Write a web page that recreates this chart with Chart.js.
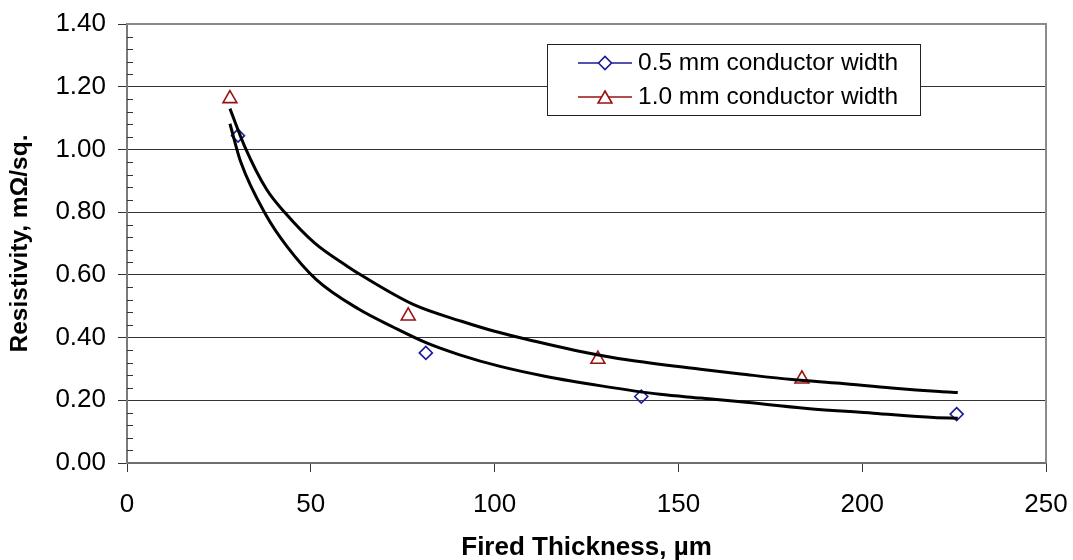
<!DOCTYPE html>
<html>
<head>
<meta charset="utf-8">
<script src="https://cdn.jsdelivr.net/npm/chart.js@4.4.1/dist/chart.umd.min.js"></script>
<style>
  html, body { margin: 0; padding: 0; background: #ffffff; }
  #wrap { width: 1073px; height: 560px; position: relative; }
</style>
</head>
<body>
<div id="wrap"><canvas id="c" width="1073" height="560"></canvas></div>
<script>
// ---- data ----
const seriesNames = ['0.5 mm conductor width', '1.0 mm conductor width'];
const thickness05 = [30.2, 81.3, 139.9, 225.7];
const resist05 = [1.044, 0.351, 0.212, 0.156];
const thickness10 = [28.0, 76.5, 128.1, 183.6];
const resist10 = [1.162, 0.469, 0.331, 0.268];
// trend curves as drawn in the reference
const trendX05 = [28, 31, 38, 43.5, 51.5, 63, 72.5, 81.5, 90.5, 101.5, 114, 129, 145, 156, 167, 185, 203, 219.5, 226];
const trendY05 = [1.082, 0.958, 0.787, 0.691, 0.585, 0.491, 0.433, 0.383, 0.345, 0.308, 0.276, 0.246, 0.219, 0.207, 0.195, 0.174, 0.159, 0.145, 0.143];
const trendX10 = [28, 32, 38, 43, 51, 60, 64, 78, 91, 100, 111, 122, 136, 156, 167, 181, 194, 208, 221, 226];
const trendY10 = [1.13, 1.01, 0.872, 0.798, 0.702, 0.627, 0.597, 0.505, 0.452, 0.42, 0.388, 0.359, 0.329, 0.299, 0.284, 0.266, 0.254, 0.239, 0.228, 0.225];
const xTitle = 'Fired Thickness, µm';
const yTitle = 'Resistivity, mΩ/sq.';
const xMin = 0, xMax = 250, xStep = 50;
const yMin = 0, yMax = 1.4, yStep = 0.2, yMinorStep = 0.04;

const toPts = (xs, ys) => xs.map((x, i) => ({ x: x, y: ys[i] }));
const FONT = "'Liberation Sans', Arial, sans-serif";

const minorTicks = {
  id: 'minorTicks',
  afterDatasetsDraw(chart) {
    const { ctx, chartArea } = chart;
    const y = chart.scales.y;
    ctx.save();
    ctx.strokeStyle = '#333';
    ctx.lineWidth = 1;
    const n = Math.round((yMax - yMin) / yMinorStep);
    for (let k = 1; k < n; k++) {
      if (k % 5 === 0) continue;
      const py = Math.round(y.getPixelForValue(yMin + k * yMinorStep)) + 0.5;
      ctx.beginPath();
      ctx.moveTo(chartArea.left, py);
      ctx.lineTo(chartArea.left + 6, py);
      ctx.stroke();
    }
    // top and right frame
    ctx.strokeStyle = '#8a8a8a';
    ctx.lineWidth = 2;
    ctx.beginPath();
    ctx.moveTo(chartArea.left, chartArea.top);
    ctx.lineTo(chartArea.right, chartArea.top);
    ctx.lineTo(chartArea.right, chartArea.bottom);
    ctx.stroke();
    ctx.restore();
  }
};

const boxLegend = {
  id: 'boxLegend',
  afterDraw(chart) {
    const { ctx } = chart;
    const bx = 547, by = 44, bw = 373, bh = 71;
    ctx.save();
    ctx.fillStyle = '#ffffff';
    ctx.fillRect(bx, by, bw, bh);
    ctx.strokeStyle = '#222';
    ctx.lineWidth = 1;
    ctx.strokeRect(bx + 0.5, by + 0.5, bw, bh);
    const rows = [63, 97];
    [0, 1].forEach((i) => {
      const ds = chart.data.datasets[i];
      const ry = rows[i];
      ctx.strokeStyle = ds.borderColor;
      ctx.lineWidth = 1.5;
      ctx.beginPath();
      ctx.moveTo(578, ry);
      ctx.lineTo(632, ry);
      ctx.stroke();
      ctx.fillStyle = '#ffffff';
      ctx.lineWidth = ds.borderWidth;
      Chart.helpers.drawPoint(ctx, {
        pointStyle: ds.pointStyle,
        radius: ds.pointRadius,
        borderWidth: ds.borderWidth,
        rotation: 0
      }, 605, i === 1 ? ry + 2 : ry);
      ctx.fillStyle = '#000';
      ctx.font = '24.5px ' + FONT;
      ctx.textBaseline = 'middle';
      ctx.textAlign = 'left';
      ctx.fillText(ds.label, 638, ry);
    });
    ctx.restore();
  }
};

new Chart(document.getElementById('c'), {
  type: 'scatter',
  data: {
    datasets: [
      {
        label: seriesNames[0],
        data: toPts(thickness05, resist05),
        pointStyle: 'rectRot',
        pointRadius: 6.5,
        pointHoverRadius: 6.5,
        borderColor: '#1a1a9a',
        backgroundColor: 'rgba(255,255,255,0)',
        borderWidth: 1.6,
        showLine: false,
        order: 2
      },
      {
        label: seriesNames[1],
        data: toPts(thickness10, resist10),
        pointStyle: 'triangle',
        pointRadius: 8,
        pointHoverRadius: 8,
        borderColor: '#9a1010',
        backgroundColor: 'rgba(255,255,255,0)',
        borderWidth: 1.6,
        showLine: false,
        order: 2
      },
      {
        label: 'fit05',
        data: toPts(trendX05, trendY05),
        showLine: true,
        borderColor: '#000',
        borderWidth: 3,
        pointRadius: 0,
        cubicInterpolationMode: 'monotone',
        fill: false,
        order: 1
      },
      {
        label: 'fit10',
        data: toPts(trendX10, trendY10),
        showLine: true,
        borderColor: '#000',
        borderWidth: 3,
        pointRadius: 0,
        cubicInterpolationMode: 'monotone',
        fill: false,
        order: 1
      }
    ]
  },
  options: {
    responsive: false,
    animation: false,
    devicePixelRatio: 1,
    layout: { padding: { left: 0, top: 24, right: 27, bottom: 0 } },
    plugins: {
      legend: { display: false },
      tooltip: { enabled: false }
    },
    scales: {
      x: {
        type: 'linear',
        min: xMin, max: xMax,
        afterFit(s) { s.height = 97; s.paddingRight = 0; s.paddingLeft = 0; },
        ticks: {
          stepSize: xStep,
          color: '#000',
          padding: 17,
          maxRotation: 0,
          font: { family: FONT, size: 26 }
        },
        grid: {
          drawOnChartArea: false,
          drawTicks: true,
          tickLength: 9,
          tickColor: '#333',
          tickWidth: 1
        },
        border: { display: true, color: '#6e6e6e', width: 2 },
        title: {
          display: true,
          text: xTitle,
          color: '#000',
          font: { family: FONT, size: 26, weight: 'bold' },
          padding: { top: 0, bottom: -3 }
        }
      },
      y: {
        type: 'linear',
        min: yMin, max: yMax,
        afterFit(s) { s.width = 127; s.paddingTop = 0; s.paddingBottom = 0; },
        ticks: {
          stepSize: yStep,
          color: '#000',
          padding: 12,
          font: { family: FONT, size: 26 },
          callback: (v) => Number(v).toFixed(2)
        },
        grid: {
          color: '#333',
          lineWidth: 1,
          drawTicks: true,
          tickLength: 9,
          tickColor: '#333'
        },
        border: { display: true, color: '#7a7a7a', width: 2 },
        title: {
          display: true,
          text: yTitle,
          color: '#000',
          font: { family: FONT, size: 24.5, weight: 'bold' },
          padding: { top: 6, bottom: 0 }
        }
      }
    }
  },
  plugins: [minorTicks, boxLegend]
});
</script>
</body>
</html>
